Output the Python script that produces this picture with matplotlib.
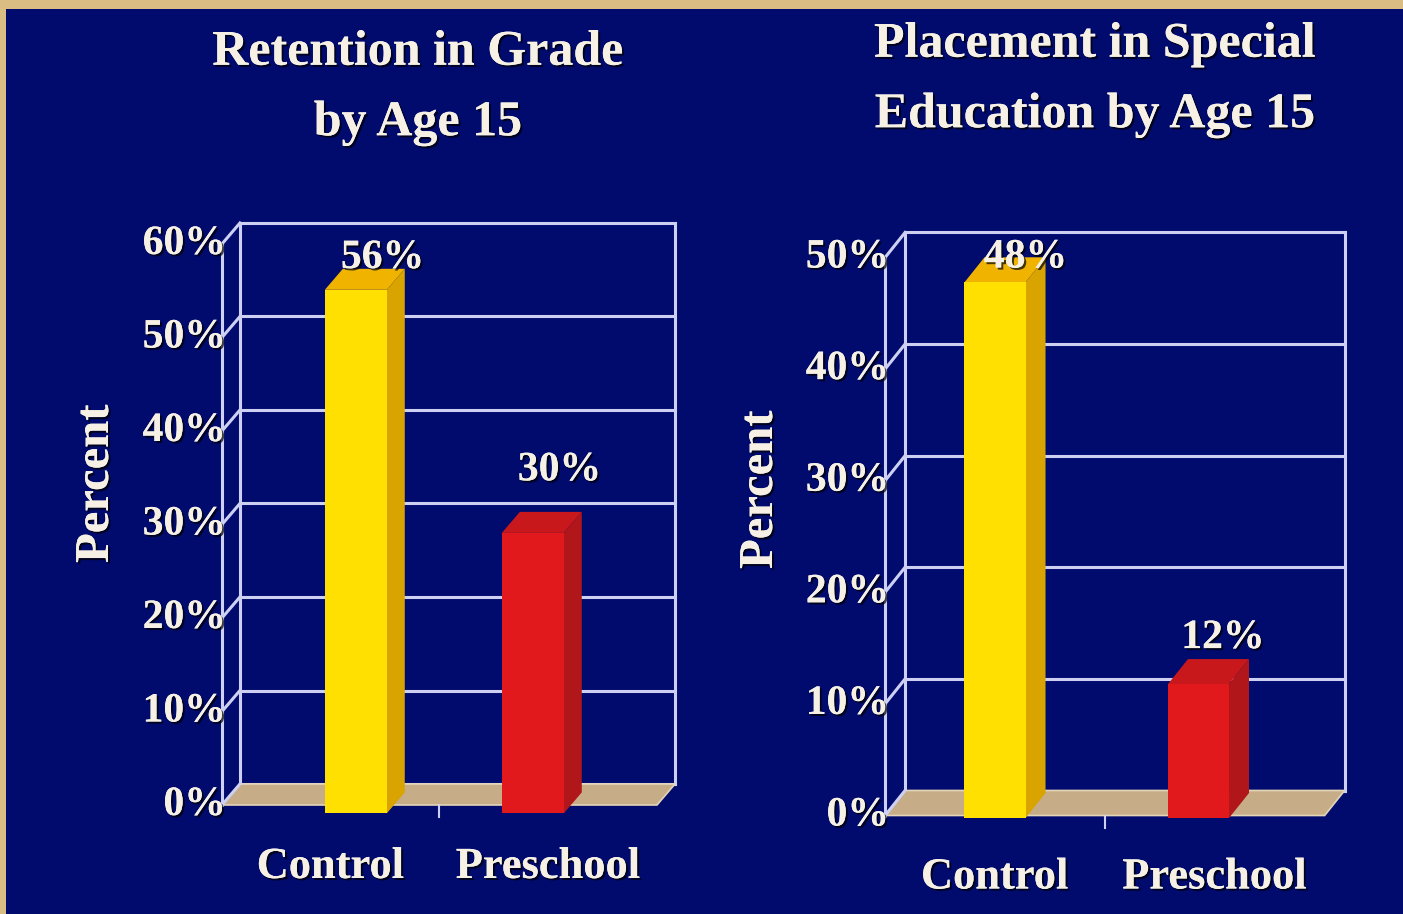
import matplotlib
matplotlib.use("Agg")
import matplotlib.pyplot as plt
from matplotlib.patches import Polygon, Rectangle
import matplotlib.patheffects as pe

# data
categories = ["Control", "Preschool"]
retention = [56, 30]
special_ed = [48, 12]
retention_ticks = [0, 10, 20, 30, 40, 50, 60]
special_ticks = [0, 10, 20, 30, 40, 50]
titles = ["Retention in Grade\nby Age 15", "Placement in Special\nEducation by Age 15"]

W, H = 1403, 914
NAVY = "#010B6E"
TAN = "#D9BD82"
TXT = "#F6F1E4"
GRID = "#CDD0F2"
FLOOR = "#C6AD87"
FRONT = ["#FFE000", "#E1181C"]
SIDE = ["#D9A300", "#B0161A"]
TOP = ["#F0B400", "#C8181C"]

plt.rcParams["font.family"] = ["Liberation Serif", "DejaVu Serif"]
plt.rcParams["font.weight"] = "bold"

shadow = [pe.withSimplePatchShadow(offset=(1.5, -1.5), shadow_rgbFace="black", alpha=0.7), pe.Normal()]

fig = plt.figure(figsize=(W / 100, H / 100), dpi=100, facecolor=TAN)
fig.patches.append(Rectangle((6 / W, 0), 1, 1 - 9 / H, transform=fig.transFigure,
                             facecolor=NAVY, edgecolor="none", zorder=-5))


def draw_chart(box, origin, scale, depth, values, ticks, bar_w, bar_z, frame,
               label_off, title, title_xy, percent_xy):
    # box: pixel span of the axes, origin: pixel of (x=0, y=0, z=0)
    left_px, right_px = box
    cx0, y0 = origin
    sx, sy = scale
    ddx, ddy = depth[0] / sx, depth[1] / sy
    ax = fig.add_axes([left_px / W, 0, (right_px - left_px) / W, 1])
    ax.set_xlim((left_px - cx0) / sx, (right_px - cx0) / sx)
    ax.set_ylim((y0 - H) / sy, y0 / sy)
    ax.axis("off")

    def P(x, y, z):
        return (x + z * ddx, y + z * ddy)

    fl, fr = frame
    top = ticks[-1]
    # back wall
    for t in ticks:
        ax.plot(*zip(P(fl, t, 1), P(fr, t, 1)), color=GRID, lw=2.2, zorder=2)
    for xx in (fl, fr):
        ax.plot(*zip(P(xx, 0, 1), P(xx, top, 1)), color=GRID, lw=2.2, zorder=2)
    # floor
    ax.add_patch(Polygon([P(fl, 0, 0), P(fr, 0, 0), P(fr, 0, 1), P(fl, 0, 1)],
                         closed=True, facecolor=FLOOR, edgecolor="#E4D4B8", lw=1.2, zorder=3))
    # front axis + connectors
    ax.plot(*zip(P(fl, 0, 0), P(fl, top, 0)), color=GRID, lw=2.2, zorder=4)
    for t in ticks:
        ax.plot(*zip(P(fl, t, 0), P(fl, t, 1)), color=GRID, lw=2.2, zorder=4)
        ax.text(fl + 4 / sx, t, f"{t}%", ha="right", va="center", color=TXT,
                fontsize=30, path_effects=shadow, zorder=6)
    mid = (fl + fr) / 2
    ax.plot(*zip(P(mid, 0, 0), P(mid, -12 / sy, 0)), color=GRID, lw=1.5, zorder=4)

    # bars
    z0, z1 = bar_z
    for i, v in enumerate(values):
        x0, x1 = i - bar_w / 2, i + bar_w / 2
        ax.add_patch(Polygon([P(x1, 0, z0), P(x1, 0, z1), P(x1, v, z1), P(x1, v, z0)],
                             facecolor=SIDE[i], edgecolor="none", zorder=5))
        ax.add_patch(Polygon([P(x0, v, z0), P(x1, v, z0), P(x1, v, z1), P(x0, v, z1)],
                             facecolor=TOP[i], edgecolor="none", zorder=5))
        ax.add_patch(Polygon([P(x0, 0, z0), P(x1, 0, z0), P(x1, v, z0), P(x0, v, z0)],
                             facecolor=FRONT[i], edgecolor="none", zorder=5))
        dx, dy = label_off[i]
        ax.text(i + dx, v + dy, f"{v}%", ha="center", va="center", color=TXT,
                fontsize=30, path_effects=shadow, zorder=7)

    # category labels centred in each half of the frame
    half = (fr - fl) / len(categories)
    for k, c in enumerate(categories):
        ax.text(fl + (k + 0.5) * half, -62 / sy, c, ha="center", va="center",
                color=TXT, fontsize=32, path_effects=shadow)

    fig.text(title_xy[0] / W, 1 - title_xy[1] / H, title, ha="center", va="center",
             color=TXT, fontsize=36, linespacing=1.7, path_effects=shadow)
    fig.text(percent_xy[0] / W, 1 - percent_xy[1] / H, "Percent", rotation=90,
             ha="center", va="center", color=TXT, fontsize=35, path_effects=shadow)


draw_chart(box=(0, 700), origin=(363, 805), scale=(177, 9.35), depth=(18, 21),
           values=retention, ticks=retention_ticks, bar_w=0.35, bar_z=(-0.4, 0.6),
           frame=(-0.797, 1.661), label_off=[(0.11, 2.5), (0.11, 5.8)],
           title=titles[0], title_xy=(418, 88), percent_xy=(96, 484))

draw_chart(box=(700, W), origin=(997, 815.5), scale=(203.5, 11.16), depth=(20, 25),
           values=special_ed, ticks=special_ticks, bar_w=0.30, bar_z=(-0.1, 0.9),
           frame=(-0.55, 1.61), label_off=[(0.14, 2.0), (0.11, 3.9)],
           title=titles[1], title_xy=(1095, 80), percent_xy=(760, 490))

fig.savefig("out.png", dpi=100, facecolor=TAN)
